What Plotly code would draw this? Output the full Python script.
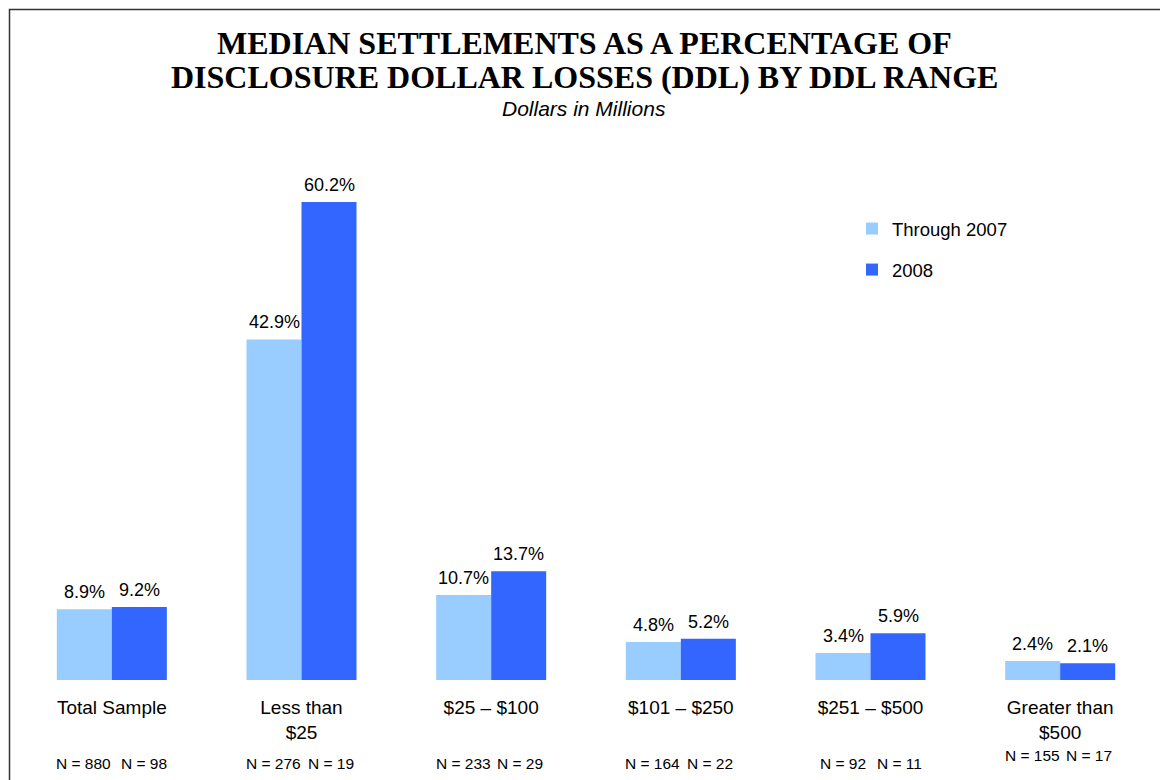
import plotly.graph_objects as go

categories = ["Total Sample", "Less than<br>$25", "$25 – $100", "$101 – $250", "$251 – $500", "Greater than<br>$500"]
through_2007 = [8.9, 42.9, 10.7, 4.8, 3.4, 2.4]
y2008 = [9.2, 60.2, 13.7, 5.2, 5.9, 2.1]
n_through_2007 = [880, 276, 233, 164, 92, 155]
n_2008 = [98, 19, 29, 22, 11, 17]
series_names = ["Through 2007", "2008"]
title_lines = ["MEDIAN SETTLEMENTS AS A PERCENTAGE OF", "DISCLOSURE DOLLAR LOSSES (DDL) BY DDL RANGE"]
subtitle = "Dollars in Millions"

LIGHT = "#99CCFF"
DARK = "#3366FF"
FONT = "Liberation Sans, Arial, sans-serif"
SERIF = "Liberation Serif, Times New Roman, serif"

# page has an 8px body margin; figure coords = page coords - 8
OFF = 8
W, H = 1168 - OFF, 780 - OFF
L, R = 17 - OFF, W - (1155 - OFF)
T, B = 164 - OFF, H - (680 - OFF)
pw, ph = W - L - R, H - T - B


def px(xpage):
    return (xpage - OFF - L) / pw


def py(ypage):
    return (H - B - (ypage - OFF)) / ph


fig = go.Figure()
for name, vals, col in [(series_names[0], through_2007, LIGHT), (series_names[1], y2008, DARK)]:
    fig.add_trace(go.Bar(
        x=categories, y=vals, name=name, marker=dict(color=col, line=dict(width=0)),
        legendgroup=name, hoverinfo="x+y",
    ))

annotations = []
for i, cat in enumerate(categories):
    for vals, xs in [(through_2007, -27.5), (y2008, 27.5)]:
        annotations.append(dict(
            x=cat, y=vals[i], xref="x", yref="y", yanchor="middle", xanchor="center",
            yshift=17, xshift=xs, text=f"{vals[i]:.1f}%", showarrow=False,
            font=dict(family=FONT, size=18, color="black"),
        ))
    ysh = 8 if i == len(categories) - 1 else 0
    xs2 = 32 if i == 0 else 29
    for n, xs in [(n_through_2007[i], -28), (n_2008[i], xs2)]:
        annotations.append(dict(
            x=cat, y=0, xref="x", yref="y", yanchor="middle", xanchor="center",
            yshift=-83 + ysh, xshift=xs, text=f"N = {n}", showarrow=False,
            font=dict(family=FONT, size=15.5, color="black"),
        ))

annotations.append(dict(
    x=px(584), y=py(108), xref="paper", yref="paper", showarrow=False, yanchor="middle",
    text=f"<i>{subtitle}</i>", font=dict(family=FONT, size=21, color="black"),
))
for txt, yc in zip(title_lines, [43, 77]):
    annotations.append(dict(
        x=px(584), y=py(yc), xref="paper", yref="paper", showarrow=False, yanchor="middle",
        text=f"<b>{txt}</b>", font=dict(family=SERIF, size=32, color="black"),
    ))

fig.update_layout(
    width=W, height=H,
    margin=dict(l=L, r=R, t=T, b=B),
    paper_bgcolor="white", plot_bgcolor="white",
    barmode="group", bargap=0.42, bargroupgap=0,
    font=dict(family=FONT, size=18, color="black"),
    xaxis=dict(showline=False, showgrid=False, zeroline=False, ticks="",
               ticklabelstandoff=14,
               tickfont=dict(family=FONT, size=19, color="black")),
    yaxis=dict(range=[0, 65], visible=False),
    showlegend=True,
    legend=dict(x=px(852), y=py(210), xanchor="left", yanchor="top",
                font=dict(family=FONT, size=18.5, color="black"),
                traceorder="grouped", tracegroupgap=14, bgcolor="rgba(0,0,0,0)"),
    annotations=annotations,
    shapes=[dict(type="rect", xref="paper", yref="paper",
                 x0=px(9.5), x1=px(1163), y0=py(800), y1=py(9.5),
                 line=dict(color="#333333", width=1.5), fillcolor="rgba(0,0,0,0)")],
)

fig.write_html("out.html")
